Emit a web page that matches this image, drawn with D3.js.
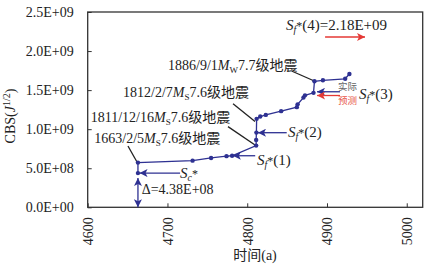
<!DOCTYPE html>
<html>
<head>
<meta charset="utf-8">
<script src="https://cdn.jsdelivr.net/npm/d3@7"></script>
<style>
  body { margin: 0; background: #fff; }
  text { font-family: "Liberation Serif", "Times New Roman", "Noto Sans CJK SC", serif; }
</style>
</head>
<body>
<div id="chart"></div>
<script>
// CBS curve (x = year + 3000, y = cumulative Benioff strain)
var years = [4663, 4663, 4731.5, 4754.7, 4774, 4781, 4811.2, 4811.2, 4811.5, 4811.8,
             4816.3, 4823.3, 4842.5, 4862.2, 4863.2, 4870.5, 4872.4, 4883.1, 4884.3,
             4894.9, 4922.8, 4928.1]
var cbs = [4.38e8, 5.72e8, 5.97e8, 6.32e8, 6.55e8, 6.6e8, 7.9e8, 8.63e8, 9.56e8, 11.32e8,
           11.62e8, 11.83e8, 12.31e8, 12.82e8, 13.18e8, 14.04e8, 14.33e8, 14.65e8, 16.13e8,
           16.26e8, 16.45e8, 17.06e8]

var xTicks = [4600, 4700, 4800, 4900, 5000]
var yTicks = [0, 5e8, 1e9, 1.5e9, 2e9, 2.5e9]

// earthquake labels: text anchor and leader line (data units)
var quakeDates = ["1886/9/1", "1812/2/7", "1811/12/16", "1663/2/5"]
var quakeMagType = ["W", "S", "S", "S"]
var quakeMag = ["7.7", "7.6", "7.6", "7.6"]
var quakeTextPos = [[4700.7, 1.758e9], [4644.3, 1.418e9], [4603.8, 1.098e9], [4608.3, 0.823e9]]
var quakeLeader = [[[4855.6, 1.745e9], [4884.1, 1.617e9]],
                   [[4782.2, 1.327e9], [4809.8, 1.097e9]],
                   [[4775.9, 1.033e9], [4809.8, 0.797e9]],
                   [[4650.5, 0.785e9], [4661.8, 0.58e9]]]

// arrows [x1, x2, y, color]
var arrows = [[4715.8, 4665, 4.38e8, "blue"],
              [4810, 4782, 6.6e8, "blue"],
              [4849.5, 4813.5, 9.55e8, "blue"],
              [4916.3, 4887.5, 14.79e8, "blue"],
              [4916.3, 4887.5, 14.31e8, "red"],
              [4897.6, 4947.7, 21.8e8, "red"]]

var sfLabels = ["(1)", "(2)", "(3)"]
var sfPos = [[4812.3, 0.541e9], [4851.2, 0.899e9], [4940.3, 1.386e9]]

var blue = "#2e3192", red = "#e53935"

var margin = {top: 12, right: 11.3, bottom: 61.7, left: 87.7},
    width = 434 - margin.left - margin.right,
    height = 269 - margin.top - margin.bottom

var svg = d3.select("#chart").append("svg")
  .attr("width", 434).attr("height", 269)

var defs = svg.append("defs")
;[["blue", blue], ["red", red]].forEach(function(c) {
  defs.append("marker")
    .attr("id", "arr-" + c[0])
    .attr("viewBox", "0 0 10 10")
    .attr("refX", 10).attr("refY", 5)
    .attr("markerUnits", "userSpaceOnUse")
    .attr("markerWidth", 11).attr("markerHeight", 8)
    .attr("orient", "auto-start-reverse")
    .append("path").attr("d", "M0,0L10,5L0,10L2.5,5Z").attr("fill", c[1])
})

var g = svg.append("g").attr("transform", `translate(${margin.left},${margin.top})`)

var x = d3.scaleLinear().domain([4600, 5020]).range([0, width])
var y = d3.scaleLinear().domain([0, 2.5e9]).range([height, 0])

// axes (inner ticks)
var fmt = function(d) { return d.toExponential(1).toUpperCase().replace(/E\+(\d)$/, "E+0$1") }
fmt = function(d) {
  var e = d === 0 ? 0 : Math.floor(Math.log10(d))
  var m = d === 0 ? 0 : d / Math.pow(10, e)
  return m.toFixed(1) + "E+" + (e < 10 ? "0" + e : e)
}

var ya = g.append("g").call(d3.axisLeft(y).tickValues(yTicks).tickSize(-4).tickPadding(14).tickFormat(fmt))
ya.select(".domain").remove()
ya.selectAll("line").attr("stroke", "#333")
ya.selectAll("text").attr("font-size", 14).attr("fill", "#222")
  .attr("font-family", "Liberation Serif, serif")

var xa = g.append("g").attr("transform", `translate(0,${height})`)
  .call(d3.axisBottom(x).tickValues(xTicks).tickSize(-4).tickFormat(d3.format("d")))
xa.select(".domain").remove()
xa.selectAll("line").attr("stroke", "#333")
xa.selectAll("text").attr("font-size", 14).attr("fill", "#222")
  .attr("font-family", "Liberation Serif, serif")
  .attr("transform", "rotate(-90)")
  .attr("text-anchor", "end")
  .attr("x", -10).attr("y", 0).attr("dy", "0.35em")

g.append("rect").attr("width", width).attr("height", height)
  .attr("fill", "none").attr("stroke", "#333").attr("stroke-width", 1.3)

// axis titles
svg.append("text").attr("x", 255).attr("y", 260).attr("text-anchor", "middle")
  .attr("font-size", 14).attr("fill", "#222").text("时间(a)")
var yt = svg.append("text").attr("transform", "translate(15,116) rotate(-90)")
  .attr("text-anchor", "middle").attr("font-size", 14).attr("fill", "#222")
yt.append("tspan").text("CBS(")
yt.append("tspan").attr("font-style", "italic").text("J")
yt.append("tspan").attr("font-size", 10).attr("dy", -5).text("1/2")
yt.append("tspan").attr("dy", 5).text(")")

// leader lines and labels for quakes
quakeLeader.forEach(function(l) {
  g.append("line")
    .attr("x1", x(l[0][0])).attr("y1", y(l[0][1]))
    .attr("x2", x(l[1][0])).attr("y2", y(l[1][1]))
    .attr("stroke", "#222").attr("stroke-width", 1.3)
})
quakeDates.forEach(function(d, i) {
  var t = g.append("text").attr("x", x(quakeTextPos[i][0])).attr("y", y(quakeTextPos[i][1]))
    .attr("font-size", 14).attr("fill", "#222")
  t.append("tspan").text(d)
  t.append("tspan").attr("font-style", "italic").text("M")
  t.append("tspan").attr("font-size", 9).attr("dy", 3).text(quakeMagType[i])
  t.append("tspan").attr("dy", -3).text(quakeMag[i] + "级地震")
})

// CBS line
var pts = years.map(function(d, i) { return [d, cbs[i]] })
g.append("path").datum(pts)
  .attr("fill", "none").attr("stroke", blue).attr("stroke-width", 1.3)
  .attr("d", d3.line().x(d => x(d[0])).y(d => y(d[1])))
g.selectAll(".dot").data(pts).join("circle")
  .attr("class", "dot")
  .attr("cx", d => x(d[0])).attr("cy", d => y(d[1])).attr("r", 2.2)
  .attr("fill", blue)

// delta arrow (double headed)
g.append("line")
  .attr("x1", x(4663)).attr("x2", x(4663))
  .attr("y1", y(0)).attr("y2", y(3.75e8))
  .attr("stroke", blue).attr("stroke-width", 1.3)
  .attr("marker-start", "url(#arr-blue)").attr("marker-end", "url(#arr-blue)")

arrows.forEach(function(a) {
  g.append("line")
    .attr("x1", x(a[0])).attr("x2", x(a[1]))
    .attr("y1", y(a[2])).attr("y2", y(a[2]))
    .attr("stroke", a[3] == "red" ? red : blue).attr("stroke-width", 1.3)
    .attr("marker-end", "url(#arr-" + a[3] + ")")
})

function sLabel(px, py, sub, rest, size) {
  var t = g.append("text").attr("x", px).attr("y", py).attr("font-size", size).attr("fill", "#222")
  t.append("tspan").attr("font-style", "italic").text("S")
  t.append("tspan").attr("font-style", "italic").attr("font-size", size * 0.65).attr("dy", 3).text(sub)
  t.append("tspan").attr("font-size", size * 0.8).attr("dy", -3).text(sub == "f" ? "*" : "*")
  if (rest) t.append("tspan").text(rest)
  return t
}

sLabel(x(4715.8), y(3.75e8), "c", "", 15)
sfLabels.forEach(function(s, i) { sLabel(x(sfPos[i][0]), y(sfPos[i][1]), "f", s, 15) })
sLabel(x(4848.6), y(2.27e9), "f", "(4)=2.18E+09", 15)

g.append("text").attr("x", x(4667.7)).attr("y", y(0.17e9))
  .attr("font-size", 14).attr("fill", "#222").text("Δ=4.38E+08")

g.append("text").attr("x", x(4913.9)).attr("y", y(1.505e9))
  .attr("font-size", 9.5).attr("fill", "#666").text("实际")
g.append("text").attr("x", x(4913.9)).attr("y", y(1.32e9))
  .attr("font-size", 9.5).attr("fill", "#e8584c").text("预测")
</script>
</body>
</html>
